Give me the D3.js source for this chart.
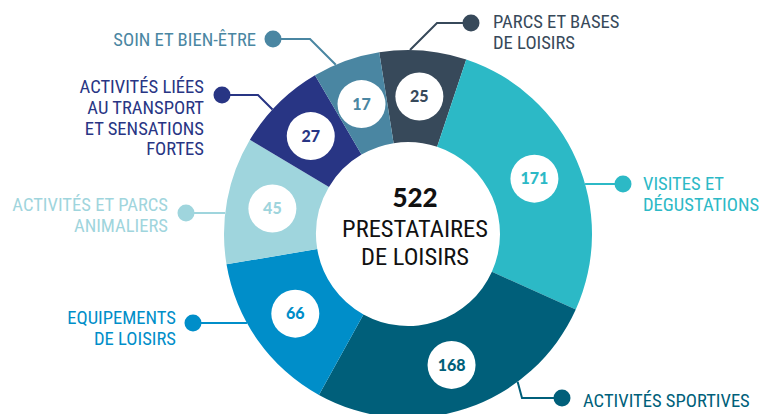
<!DOCTYPE html>
<html>
<head>
<meta charset="utf-8">
<script src="https://cdn.jsdelivr.net/npm/d3@7"></script>
<style>
  body { margin: 0; background: #fff; }
  svg { display: block; }
</style>
</head>
<body>
<div id="chart"></div>
<script>
// Slices in clockwise order, starting just left of 12 o'clock
const categories = ["Parcs et bases de loisirs", "Visites et dégustations", "Activités sportives",
  "Equipements de loisirs", "Activités et parcs animaliers",
  "Activités liées au transport et sensations fortes", "Soin et bien-être"];
const values = [25, 171, 168, 66, 45, 27, 17];
const labelLines = [
  ["PARCS ET BASES", "DE LOISIRS"],
  ["VISITES ET", "DÉGUSTATIONS"],
  ["ACTIVITÉS SPORTIVES"],
  ["EQUIPEMENTS", "DE LOISIRS"],
  ["ACTIVITÉS ET PARCS", "ANIMALIERS"],
  ["ACTIVITÉS LIÉES", "AU TRANSPORT", "ET SENSATIONS", "FORTES"],
  ["SOIN ET BIEN-ÊTRE"]
];
const totalValue = 522;
const centerLines = ["PRESTATAIRES", "DE LOISIRS"];

const colors = ["#37495a", "#2cb9c6", "#005f7a", "#008ec9", "#9fd5dd", "#283584", "#4a86a2"];

const width = 771, height = 414;
const cx = 408, cy = 234;
const outerR = 184, innerR = 92;

const narrow = "'Liberation Sans Narrow', 'Roboto Condensed', 'DejaVu Sans Condensed', sans-serif";

const data = categories.map((name, i) => ({ name, value: values[i], lines: labelLines[i], color: colors[i] }));

const svg = d3.select("#chart").append("svg")
    .attr("width", width)
    .attr("height", height);

const g = svg.append("g").attr("transform", `translate(${cx},${cy})`);

// the original enlarges small slices, so angles follow a power scale of the value
const weight = d3.scalePow().exponent(0.65).domain([0, d3.max(values)]).range([0, 1]);
const start = -9 * Math.PI / 180;
const pie = d3.pie()
    .sort(null)
    .value(d => weight(d.value))
    .startAngle(start)
    .endAngle(start + 2 * Math.PI);
const arcs = pie(data);

const arc = d3.arc().innerRadius(innerR).outerRadius(outerR);

g.selectAll("path.slice")
  .data(arcs)
  .join("path")
    .attr("class", "slice")
    .attr("fill", d => d.data.color)
    .attr("d", arc);

// value bubbles
const bubbles = g.selectAll("g.bubble")
  .data(arcs)
  .join("g")
    .attr("class", "bubble")
    .attr("transform", d => `translate(${arc.centroid(d)})`);
bubbles.append("circle").attr("r", 24).attr("fill", "#fff");
bubbles.append("text")
    .attr("text-anchor", "middle")
    .attr("dy", "0.36em")
    .attr("font-family", "Lato, sans-serif")
    .attr("font-weight", 900)
    .attr("font-size", 16)
    .attr("fill", d => d.data.color)
    .text(d => d.data.value);

// centre (the original text block sits a little right of the hole's centre)
g.append("text")
    .attr("text-anchor", "middle")
    .attr("x", 7)
    .attr("y", -27)
    .attr("font-family", "Lato, sans-serif")
    .attr("font-weight", 900)
    .attr("font-size", 26)
    .attr("fill", "#111")
    .text(totalValue);
g.append("text")
    .attr("text-anchor", "middle")
    .attr("font-family", narrow)
    .attr("font-size", 24.5)
    .attr("fill", "#111")
  .selectAll("tspan")
  .data(centerLines)
  .join("tspan")
    .attr("x", 7)
    .attr("y", (d, i) => 3 + i * 27.5)
    .text(d => d);

// callouts: dot, optional elbow, then a ray towards the ring
const callouts = [
  { pts: [[471, 23], [437, 23]], dir: [-1, 1], anchor: "start", tx: 493, ty: 28 },
  { pts: [[623, 184]], dir: [-1, 0], anchor: "start", tx: 643, ty: 190 },
  { pts: [[562, 398], [522, 398]], dir: [-0.27, -1], anchor: "start", tx: 583, ty: 407 },
  { pts: [[193, 323]], dir: [1, 0], anchor: "end", tx: 176, ty: 324 },
  { pts: [[186, 213]], dir: [1, 0], anchor: "end", tx: 168, ty: 211 },
  { pts: [[222, 95], [258, 95]], dir: [1, 1], anchor: "end", tx: 204, ty: 93 },
  { pts: [[273, 39], [310, 39]], dir: [1, 1], anchor: "end", tx: 256, ty: 46 }
];

function hitRing(p, dir) {
  const len = Math.hypot(dir[0], dir[1]);
  const ux = dir[0] / len, uy = dir[1] / len;
  const px = p[0] - cx, py = p[1] - cy;
  const b = px * ux + py * uy;
  const c = px * px + py * py - outerR * outerR;
  const t = -b - Math.sqrt(b * b - c);
  return [p[0] + ux * t, p[1] + uy * t];
}

const ann = svg.append("g");
data.forEach((d, i) => {
  const c = callouts[i];
  const last = c.pts[c.pts.length - 1];
  const pts = c.pts.concat([hitRing(last, c.dir)]);
  ann.append("path")
      .attr("d", d3.line()(pts))
      .attr("fill", "none")
      .attr("stroke", d.color)
      .attr("stroke-width", 2);
  ann.append("circle")
      .attr("cx", c.pts[0][0])
      .attr("cy", c.pts[0][1])
      .attr("r", 8.5)
      .attr("fill", d.color);
  ann.append("text")
      .attr("text-anchor", c.anchor)
      .attr("font-family", narrow)
      .attr("font-size", 18.6)
      .attr("fill", d.color)
    .selectAll("tspan")
    .data(d.lines)
    .join("tspan")
      .attr("x", c.tx)
      .attr("y", (l, j) => c.ty + j * 20.8)
      .text(l => l);
});
</script>
</body>
</html>
